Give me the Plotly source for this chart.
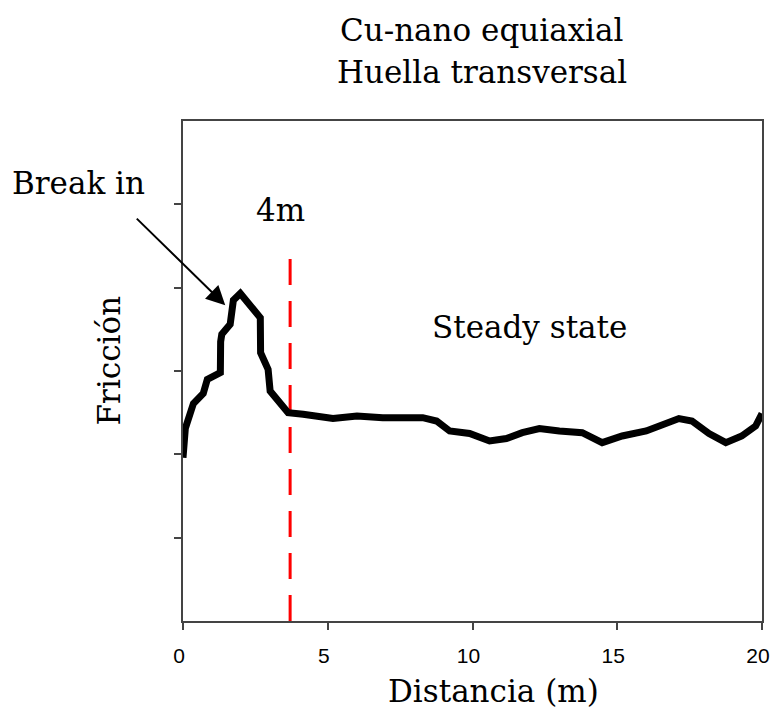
import plotly.graph_objects as go

# Friction curve (y axis has no labels, arbitrary 0-0.6 scale)
distance = [0.0, 0.08, 0.36, 0.70, 0.84, 1.05, 1.29, 1.30, 1.34, 1.63, 1.74, 1.98, 2.26, 2.67,
            2.68, 2.94, 3.01, 3.36, 3.63, 4.15, 4.84, 5.18, 6.01, 6.90, 8.28, 8.76, 9.21, 9.90,
            10.59, 11.17, 11.72, 12.31, 13.00, 13.79, 14.48, 15.17, 16.00, 16.68, 17.13, 17.58,
            18.17, 18.75, 19.30, 19.78, 20.0]
friction = [0.196, 0.231, 0.261, 0.273, 0.290, 0.293, 0.298, 0.335, 0.344, 0.356, 0.385, 0.393,
            0.381, 0.364, 0.322, 0.302, 0.276, 0.261, 0.250, 0.248, 0.246, 0.243, 0.246, 0.244,
            0.244, 0.240, 0.228, 0.225, 0.216, 0.219, 0.226, 0.231, 0.228, 0.226, 0.214, 0.222,
            0.228, 0.237, 0.243, 0.240, 0.225, 0.214, 0.222, 0.234, 0.249]

break_x = [3.7, 3.7]
break_y = [0.0, 0.445]

x_ticks = [0, 5, 10, 15, 20]
y_ticks = [0.1, 0.2, 0.3, 0.4, 0.5]

title_lines = ["Cu-nano equiaxial", "Huella transversal"]

SERIF = "DejaVu Serif"

fig = go.Figure()
fig.add_trace(go.Scatter(x=break_x, y=break_y, mode="lines",
                         line=dict(color="#ff0000", width=3, dash="26px,16px"),
                         hoverinfo="skip", showlegend=False))
fig.add_trace(go.Scatter(x=distance, y=friction, mode="lines",
                         line=dict(color="black", width=7),
                         showlegend=False))

ann = [
    dict(text=title_lines[0], x=0.516, y=1.182),
    dict(text=title_lines[1], x=0.516, y=1.098),
    dict(text="Break in", x=-0.180, y=0.876),
    dict(text="4m", x=0.168, y=0.822),
    dict(text="Steady state", x=0.598, y=0.589),
    dict(text="Distancia (m)", x=0.537, y=-0.140),
    dict(text="Fricción", x=-0.128, y=0.521, textangle=-90),
]
for a in ann:
    fig.add_annotation(xref="paper", yref="paper", showarrow=False,
                       xanchor="center", yanchor="middle",
                       font=dict(family=SERIF, size=31, color="black"), **a)

# Arrow for "Break in"
fig.add_annotation(x=1.46, y=0.379, xref="x", yref="y", text="",
                   showarrow=True, axref="pixel", ayref="pixel", ax=-90, ay=-88,
                   arrowhead=2, arrowsize=1.9, arrowwidth=2, arrowcolor="black")

axis_common = dict(showgrid=False, zeroline=False, showline=True, linecolor="#444",
                   linewidth=2, mirror=True, ticks="outside", ticklen=7, tickwidth=2,
                   tickcolor="#444", automargin=False)

fig.update_layout(
    width=771, height=720,
    margin=dict(l=183, r=9, t=121, b=99),
    paper_bgcolor="white", plot_bgcolor="white",
    xaxis=dict(range=[0, 20], tickvals=x_ticks, ticktext=[str(v) for v in x_ticks],
               tickfont=dict(family="Liberation Sans", size=21, color="black"),
               ticklabelstandoff=8, ticklabelshift=-4, ticklabeloverflow="allow",
               **axis_common),
    yaxis=dict(range=[0, 0.6], tickvals=y_ticks, showticklabels=False, **axis_common),
)

# remove the default 8px page margin so the figure fills the window exactly
fig.write_html("out.html", config={"displayModeBar": False},
               post_script="document.body.style.margin='0';")
